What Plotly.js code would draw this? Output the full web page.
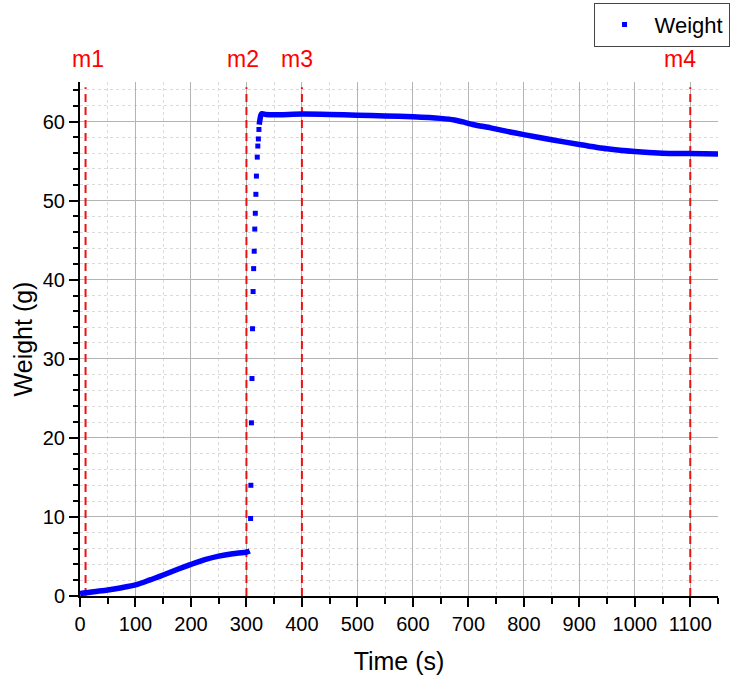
<!DOCTYPE html>
<html>
<head>
<meta charset="utf-8">
<script src="https://cdn.plot.ly/plotly-3.0.1.min.js"></script>
<style>
  html, body { margin: 0; padding: 0; background: #ffffff; }
  #chart { width: 731px; height: 678px; }
</style>
</head>
<body>
<div id="chart"></div>
<script>
// ---- Data ----
// Slow uptake before the jump (dense samples, drawn as a thick line)
const timeBefore   = [0, 10, 25, 50, 75, 100, 125, 150, 175, 200, 225, 250, 275, 300, 306];
const weightBefore = [0.3, 0.4, 0.55, 0.76, 1.05, 1.4, 2.0, 2.66, 3.35, 4.0, 4.6, 5.05, 5.35, 5.55, 5.7];

// Sparse samples during the jump (drawn as individual markers)
const timeJump   = [307.5, 308, 309, 310, 311, 312, 313, 314, 315, 316, 317, 318, 319.5, 320.5, 321.5, 322.5];
const weightJump = [9.8, 14.0, 21.9, 27.5, 33.8, 38.5, 41.4, 43.6, 46.4, 48.4, 50.8, 53.1, 55.5, 56.9, 57.8, 59.0];

// Plateau and slow decline after the jump (dense samples)
const timeAfter   = [323, 324.5, 326, 328, 335, 350, 400, 450, 500, 550, 600, 650, 675, 690, 710, 740, 770, 800, 850, 900, 950, 1000, 1050, 1100, 1150];
const weightAfter = [59.6, 60.3, 60.8, 61.0, 60.9, 60.85, 60.95, 60.9, 60.8, 60.7, 60.6, 60.4, 60.2, 59.95, 59.6, 59.2, 58.75, 58.35, 57.7, 57.1, 56.55, 56.2, 56.0, 55.95, 55.9];

// Event markers
const markerNames = ["m1", "m2", "m3", "m4"];
const markerTimes = [10, 300, 400, 1100];

// Axis ranges
const xRange = [0, 1150];
const yRange = [0, 65];

// ---- Styling ----
const FONT = "Liberation Sans, Arial, Helvetica, sans-serif";
const BLUE = "#0000ff";
const RED = "#ee1111";
const labelShiftPx = [2, -3, -5, -10];
const markerLineTopFrac = 0.99;

// Vertical event lines as one broken line trace (drawn under the data, above the grid)
const evX = [], evY = [];
markerTimes.forEach(t => {
  evX.push(t, t, null);
  evY.push(yRange[0], yRange[0] + (yRange[1] - yRange[0]) * markerLineTopFrac, null);
});

const traces = [
  {
    x: evX, y: evY, type: "scatter", mode: "lines", connectgaps: false,
    line: { color: RED, width: 2, dash: "8px,5px" }, showlegend: false, hoverinfo: "skip"
  },
  {
    x: timeBefore, y: weightBefore, type: "scatter", mode: "lines",
    line: { color: BLUE, width: 5.5, shape: "spline", smoothing: 0.8 }, showlegend: false, hoverinfo: "skip"
  },
  {
    x: timeAfter, y: weightAfter, type: "scatter", mode: "lines",
    line: { color: BLUE, width: 5.5, shape: "spline", smoothing: 0.6 }, showlegend: false, hoverinfo: "skip"
  },
  {
    x: timeJump, y: weightJump, type: "scatter", mode: "markers", name: "Weight",
    marker: { color: BLUE, size: 5, symbol: "square" }, showlegend: true
  }
];

const annotations = markerTimes.map((t, i) => ({
  x: t, xref: "x", y: 1.045, yref: "paper", yanchor: "middle",
  text: markerNames[i], showarrow: false, xshift: labelShiftPx[i],
  font: { family: FONT, size: 23, color: "#ff0000" }
}));

const axisCommon = {
  showline: true, linecolor: "#000000", linewidth: 2,
  ticks: "outside", ticklen: 9, tickwidth: 2, tickcolor: "#000000",
  showgrid: true, gridcolor: "#b4b4b4", gridwidth: 1,
  zeroline: false, automargin: false,
  tickfont: { family: FONT, size: 20, color: "#000000" }
};

const layout = {
  width: 731, height: 678,
  margin: { l: 80, r: 13, t: 82, b: 82, autoexpand: false },
  paper_bgcolor: "#ffffff", plot_bgcolor: "#ffffff",
  font: { family: FONT, color: "#000000" },
  xaxis: Object.assign({}, axisCommon, {
    range: xRange, dtick: 100, tick0: 0,
    minor: { dtick: 50, ticks: "outside", ticklen: 6, tickwidth: 2, tickcolor: "#000000",
             showgrid: true, gridcolor: "#dadada", griddash: "dot", gridwidth: 1 },
    title: { text: "Time (s)", font: { family: FONT, size: 25, color: "#000000" }, standoff: 18 }
  }),
  yaxis: Object.assign({}, axisCommon, {
    range: yRange, dtick: 10, tick0: 0,
    minor: { dtick: 2, ticks: "outside", ticklen: 5, tickwidth: 2, tickcolor: "#000000",
             showgrid: true, gridcolor: "#dadada", griddash: "dot", gridwidth: 1 },
    title: { text: "Weight (g)", font: { family: FONT, size: 25, color: "#000000" }, standoff: 3 }
  }),
  legend: {
    xref: "container", yref: "container",
    x: 0.998, xanchor: "right", y: 0.996, yanchor: "top",
    bgcolor: "#ffffff", bordercolor: "#444444", borderwidth: 1,
    font: { family: FONT, size: 22, color: "#000000" }, itemwidth: 50
  },
  annotations: annotations,
  showlegend: true
};

Plotly.newPlot("chart", traces, layout, { displayModeBar: false, staticPlot: true });
</script>
</body>
</html>
